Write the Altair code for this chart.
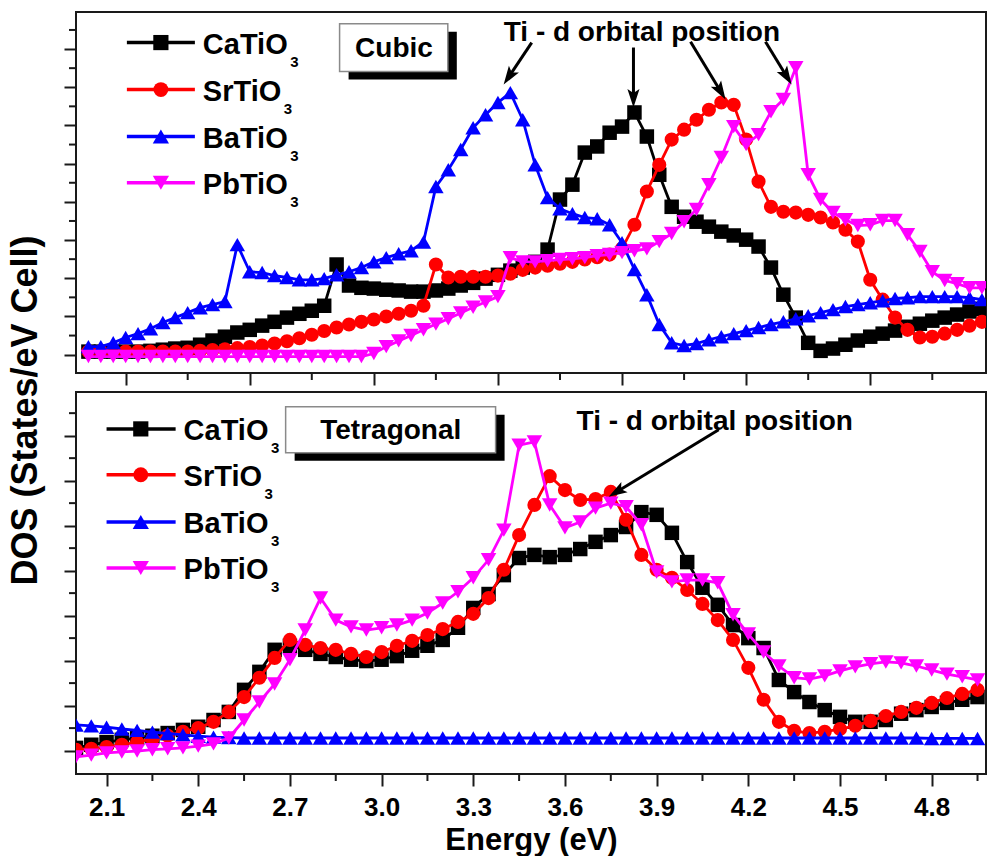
import math
import altair as alt
import pandas as pd

FONT = "Liberation Sans"
INK = "#1a1a1a"

series_names = ["CaTiO3", "SrTiO3", "BaTiO3", "PbTiO3"]
legend_main = ["CaTiO", "SrTiO", "BaTiO", "PbTiO"]
legend_sub = ["3", "3", "3", "3"]
series_colors = ["#000000", "#ff0000", "#0000ff", "#ff00ff"]
series_shapes = ["square", "circle", "triangle-up", "triangle-down"]

# ---------------- Cubic panel (top) ----------------
cubic_energy = [1.85, 1.90, 1.95, 2.00, 2.05, 2.10, 2.15, 2.20, 2.25, 2.30,
                2.35, 2.40, 2.45, 2.50, 2.55, 2.60, 2.65, 2.70, 2.75, 2.80,
                2.85, 2.90, 2.95, 3.00, 3.05, 3.10, 3.15, 3.20, 3.25, 3.30,
                3.35, 3.40, 3.45, 3.50, 3.55, 3.60, 3.65, 3.70, 3.75, 3.80,
                3.85, 3.90, 3.95, 4.00, 4.05, 4.10, 4.15, 4.20, 4.25, 4.30,
                4.35, 4.40, 4.45, 4.50, 4.55, 4.60, 4.65, 4.70, 4.75, 4.80,
                4.85, 4.90, 4.95, 5.00, 5.05, 5.10, 5.15, 5.20, 5.25, 5.30,
                5.35, 5.40, 5.45]
cubic_ca = [0.08, 0.08, 0.08, 0.08, 0.08, 0.10, 0.13, 0.16, 0.18, 0.26,
            0.37, 0.47, 0.58, 0.65, 0.76, 0.86, 0.97, 1.07, 1.15, 1.28,
            2.36, 1.81, 1.75, 1.73, 1.70, 1.68, 1.65, 1.65, 1.68, 1.73,
            1.81, 1.88, 1.99, 2.09, 2.20, 2.28, 2.43, 2.75, 4.06, 4.45,
            5.29, 5.45, 5.81, 5.97, 6.34, 5.71, 4.71, 3.87, 3.61, 3.48,
            3.35, 3.22, 3.12, 3.01, 2.83, 2.28, 1.57, 0.97, 0.31, 0.10,
            0.16, 0.26, 0.37, 0.47, 0.55, 0.63, 0.73, 0.81, 0.89, 0.97,
            1.05, 1.13, 1.20]
cubic_sr = [0.08, 0.08, 0.08, 0.08, 0.08, 0.08, 0.08, 0.08, 0.08, 0.10,
            0.12, 0.14, 0.17, 0.20, 0.24, 0.29, 0.35, 0.43, 0.52, 0.62,
            0.71, 0.79, 0.86, 0.92, 1.00, 1.07, 1.15, 1.28, 2.36, 2.02,
            2.04, 2.04, 2.04, 2.07, 2.12, 2.22, 2.28, 2.33, 2.38, 2.43,
            2.49, 2.55, 2.62, 2.78, 3.40, 4.27, 4.97, 5.63, 5.89, 6.15,
            6.41, 6.60, 6.54, 5.63, 4.53, 3.87, 3.74, 3.72, 3.66, 3.59,
            3.46, 3.27, 2.96, 1.96, 1.44, 0.97, 0.65, 0.45, 0.47, 0.55,
            0.65, 0.76, 0.86]
cubic_ba = [0.21, 0.21, 0.31, 0.45, 0.55, 0.68, 0.84, 0.97, 1.10, 1.23,
            1.31, 1.39, 2.88, 2.17, 2.15, 2.07, 2.02, 1.96, 1.96, 1.99,
            2.09, 2.17, 2.28, 2.43, 2.54, 2.64, 2.72, 2.95, 4.40, 4.84,
            5.37, 5.94, 6.28, 6.60, 6.86, 6.15, 4.97, 4.11, 3.82, 3.69,
            3.59, 3.56, 3.40, 2.93, 2.23, 1.57, 0.79, 0.31, 0.24, 0.29,
            0.39, 0.47, 0.55, 0.63, 0.71, 0.79, 0.86, 0.94, 1.02, 1.10,
            1.18, 1.26, 1.31, 1.36, 1.41, 1.47, 1.49, 1.52, 1.52, 1.52,
            1.52, 1.49, 1.44]
cubic_pb = [-0.05, -0.05, -0.05, -0.05, -0.05, -0.05, -0.05, -0.05, -0.05, -0.05,
            -0.05, -0.05, -0.05, -0.05, -0.05, -0.05, -0.05, -0.05, -0.05, -0.05,
            -0.05, -0.05, -0.05, 0.03, 0.21, 0.36, 0.50, 0.65, 0.80, 0.94,
            1.09, 1.24, 1.38, 1.52, 2.54, 2.43, 2.43, 2.46, 2.49, 2.51,
            2.54, 2.59, 2.62, 2.67, 2.72, 2.77, 2.96, 3.17, 3.48, 3.80,
            4.45, 5.16, 5.97, 5.50, 5.76, 6.36, 6.68, 7.51, 4.71, 4.06,
            3.72, 3.53, 3.38, 3.40, 3.51, 3.51, 3.14, 2.70, 2.17, 1.94,
            1.86, 1.75, 1.75]

# ---------------- Tetragonal panel (bottom) ----------------
tet_energy = [2.00, 2.05, 2.10, 2.15, 2.20, 2.25, 2.30, 2.35, 2.40, 2.45,
              2.50, 2.55, 2.60, 2.65, 2.70, 2.75, 2.80, 2.85, 2.90, 2.95,
              3.00, 3.05, 3.10, 3.15, 3.20, 3.25, 3.30, 3.35, 3.40, 3.45,
              3.50, 3.55, 3.60, 3.65, 3.70, 3.75, 3.80, 3.85, 3.90, 3.95,
              4.00, 4.05, 4.10, 4.15, 4.20, 4.25, 4.30, 4.35, 4.40, 4.45,
              4.50, 4.55, 4.60, 4.65, 4.70, 4.75, 4.80, 4.85, 4.90, 4.95]
tet_ca = [0.06, 0.13, 0.19, 0.24, 0.28, 0.33, 0.39, 0.46, 0.53, 0.68,
          0.86, 1.35, 1.75, 2.24, 2.33, 2.24, 2.15, 2.08, 2.02, 1.99,
          2.02, 2.10, 2.22, 2.33, 2.46, 2.73, 3.17, 3.48, 3.90, 4.28,
          4.35, 4.30, 4.35, 4.48, 4.64, 4.79, 4.97, 5.30, 5.24, 4.84,
          4.19, 3.62, 3.24, 2.79, 2.50, 2.28, 1.57, 1.30, 1.08, 0.90,
          0.75, 0.64, 0.64, 0.68, 0.82, 0.90, 0.97, 1.06, 1.13, 1.19]
tet_sr = [0.02, 0.04, 0.08, 0.13, 0.19, 0.26, 0.33, 0.42, 0.50, 0.64,
          0.86, 1.19, 1.62, 2.06, 2.46, 2.35, 2.28, 2.24, 2.15, 2.08,
          2.19, 2.33, 2.44, 2.57, 2.70, 2.86, 3.04, 3.39, 4.02, 4.79,
          5.46, 6.10, 5.79, 5.57, 5.59, 5.75, 5.13, 4.35, 4.02, 3.84,
          3.57, 3.26, 2.90, 2.46, 1.84, 1.13, 0.64, 0.44, 0.39, 0.42,
          0.48, 0.55, 0.66, 0.77, 0.86, 0.95, 1.06, 1.17, 1.26, 1.35]
tet_ba = [0.57, 0.55, 0.52, 0.48, 0.45, 0.41, 0.38, 0.35, 0.32, 0.30,
          0.29, 0.28, 0.28, 0.28, 0.28, 0.28, 0.28, 0.28, 0.28, 0.28,
          0.28, 0.28, 0.28, 0.28, 0.28, 0.28, 0.28, 0.28, 0.28, 0.28,
          0.28, 0.28, 0.28, 0.28, 0.28, 0.28, 0.28, 0.28, 0.28, 0.28,
          0.28, 0.28, 0.28, 0.28, 0.28, 0.28, 0.28, 0.28, 0.28, 0.28,
          0.28, 0.28, 0.28, 0.28, 0.28, 0.28, 0.27, 0.27, 0.27, 0.27]
tet_pb = [-0.14, -0.10, -0.05, -0.03, -0.01, 0.02, 0.04, 0.06, 0.10, 0.15,
          0.28, 0.68, 1.08, 1.48, 2.02, 2.68, 3.39, 2.90, 2.75, 2.68,
          2.73, 2.79, 2.90, 3.06, 3.28, 3.53, 3.84, 4.24, 4.90, 6.79,
          6.86, 5.46, 4.95, 5.08, 5.39, 5.50, 5.42, 5.02, 3.97, 3.75,
          3.79, 3.79, 3.73, 3.02, 2.59, 2.19, 1.88, 1.62, 1.59, 1.66,
          1.77, 1.86, 1.93, 1.97, 1.95, 1.88, 1.79, 1.70, 1.64, 1.57]

# axis ticks
cubic_major_x = [2.0, 2.5, 3.0, 3.5, 4.0, 4.5, 5.0]
cubic_minor_x = [2.25, 2.75, 3.25, 3.75, 4.25, 4.75, 5.25]
cubic_major_y = [0, 1, 2, 3, 4, 5, 6, 7, 8]
cubic_minor_y = [0.5, 1.5, 2.5, 3.5, 4.5, 5.5, 6.5, 7.5, 8.5]
tet_major_x = [2.1, 2.4, 2.7, 3.0, 3.3, 3.6, 3.9, 4.2, 4.5, 4.8]
tet_minor_x = [2.25, 2.55, 2.85, 3.15, 3.45, 3.75, 4.05, 4.35, 4.65, 4.95]
tet_major_y = [0, 1, 2, 3, 4, 5, 6, 7]
tet_minor_y = [0.5, 1.5, 2.5, 3.5, 4.5, 5.5, 6.5, 7.5]

# ---------------- layout / style ----------------
W = 910
TOP_H = 361
BOT_H = 382
TOP_XDOM = (1.8, 1.8 + W / 248.2)
TOP_YDOM = (-0.48, 8.97)
BOT_XDOM = (2.0, 2.0 + W / 305.6)
BOT_YDOM = (-0.52, 7.97)
LEG_FS = 29
SUB_FS = 15
BOX_FS = 28
ANN_FS = 28
MARK_SIZE = {"square": 210, "circle": 200, "triangle-up": 240, "triangle-down": 240}

# Arial-bold advance widths (per em) for legend subscript placement
ADV = {"C": 0.722, "a": 0.556, "T": 0.611, "i": 0.278, "O": 0.778, "S": 0.667,
       "r": 0.389, "B": 0.722, "P": 0.667, "b": 0.611}


def text_w(s, fs):
    return sum(ADV.get(c, 0.6) for c in s) * fs


ARROW_PATH = "M0,0L0.62,1.9L0,1.5L-0.62,1.9Z"


def make_panel(energy, series_vals, xdom, ydom, h, xmaj, xmin, ymaj, ymin,
               xaxis, yaxis, leg, box, ann, arrows):
    kx = W / (xdom[1] - xdom[0])
    ky = h / (ydom[1] - ydom[0])
    xs = alt.Scale(domain=list(xdom), nice=False, zero=False)
    ys = alt.Scale(domain=list(ydom), nice=False, zero=False)

    def X(f):
        return alt.X(f, type="quantitative", scale=xs, axis=xaxis)

    def Y(f):
        return alt.Y(f, type="quantitative", scale=ys, axis=yaxis)

    layers = []
    # minor ticks
    layers.append(alt.Chart(pd.DataFrame({"v": xmin})).mark_rule(color=INK, strokeWidth=2)
                  .encode(x=X("v"), y=alt.value(h), y2=alt.value(h + 7)))
    layers.append(alt.Chart(pd.DataFrame({"v": ymin})).mark_rule(color=INK, strokeWidth=2)
                  .encode(y=Y("v"), x=alt.value(-7), x2=alt.value(0)))

    # data
    for name, vals, col, shp in zip(series_names, series_vals, series_colors, series_shapes):
        d = pd.DataFrame({"energy": energy, "dos": vals, "series": name})
        layers.append(alt.Chart(d).mark_line(color=col, strokeWidth=2.8, clip=True)
                      .encode(x=X("energy"), y=Y("dos")))
        layers.append(alt.Chart(d).mark_point(shape=shp, filled=True, color=col, opacity=1,
                                              size=MARK_SIZE[shp], clip=True)
                      .encode(x=X("energy"), y=Y("dos")))

    # legend
    lx1, lx2, lxm, lxt, lys = leg
    for name, main, sub, col, shp, ly in zip(series_names, legend_main, legend_sub,
                                             series_colors, series_shapes, lys):
        ld = pd.DataFrame({"x1": [lx1], "x2": [lx2], "xm": [lxm], "xt": [lxt],
                           "xs": [lxt + (text_w(main, LEG_FS) + 2) / kx],
                           "y": [ly], "main": [main], "sub": [sub]})
        base = alt.Chart(ld)
        layers.append(base.mark_rule(color=col, strokeWidth=3.5)
                      .encode(x=X("x1"), x2="x2", y=Y("y")))
        layers.append(base.mark_point(shape=shp, filled=True, color=col, opacity=1,
                                      size=MARK_SIZE[shp] * 1.1)
                      .encode(x=X("xm"), y=Y("y")))
        layers.append(base.mark_text(font=FONT, fontWeight="bold", fontSize=LEG_FS, color="black",
                                     align="left", baseline="middle", dy=2)
                      .encode(x=X("xt"), y=Y("y"), text="main:N"))
        layers.append(base.mark_text(font=FONT, fontWeight="bold", fontSize=SUB_FS, color="black",
                                     align="left", baseline="middle", dy=19)
                      .encode(x=X("xs"), y=Y("y"), text="sub:N"))

    # title box with shadow
    (bx1, bx2, by1, by2), label, (tx, ty) = box
    shadow = pd.DataFrame({"x1": [bx1 + 9 / kx], "x2": [bx2 + 9 / kx],
                           "y1": [by1 - 8 / ky], "y2": [by2 - 8 / ky]})
    white = pd.DataFrame({"x1": [bx1], "x2": [bx2], "y1": [by1], "y2": [by2]})
    layers.append(alt.Chart(shadow).mark_rect(color="black")
                  .encode(x=X("x1"), x2="x2", y=Y("y1"), y2="y2"))
    layers.append(alt.Chart(white).mark_rect(fill="white", stroke="#8a8a8a", strokeWidth=1.5)
                  .encode(x=X("x1"), x2="x2", y=Y("y1"), y2="y2"))
    layers.append(alt.Chart(pd.DataFrame({"x": [tx], "y": [ty], "t": [label]}))
                  .mark_text(font=FONT, fontWeight="bold", fontSize=BOX_FS, color="black",
                             align="center", baseline="middle", dy=1)
                  .encode(x=X("x"), y=Y("y"), text="t:N"))

    # annotation text and arrows
    ann_label, (ax, ay) = ann
    layers.append(alt.Chart(pd.DataFrame({"x": [ax], "y": [ay], "t": [ann_label]}))
                  .mark_text(font=FONT, fontWeight="bold", fontSize=ANN_FS, color="black",
                             align="center", baseline="middle")
                  .encode(x=X("x"), y=Y("y"), text="t:N"))
    rows = []
    for (x0, y0), (x1, y1) in arrows:
        dx = (x1 - x0) * kx
        dy = -(y1 - y0) * ky
        ln = math.hypot(dx, dy)
        ux, uy = dx / ln, dy / ln
        ang = math.degrees(math.atan2(dx, -dy)) % 360
        rows.append({"x0": x0, "y0": y0, "xe": x1 - 12 * ux / kx, "ye": y1 + 12 * uy / ky,
                     "xt": x1, "yt": y1, "ang": ang})
    ad = pd.DataFrame(rows)
    layers.append(alt.Chart(ad).mark_rule(color="black", strokeWidth=3)
                  .encode(x=X("x0"), y=Y("y0"), x2="xe", y2="ye"))
    layers.append(alt.Chart(ad).mark_point(shape=ARROW_PATH, filled=True, color="black",
                                           opacity=1, size=380)
                  .encode(x=X("xt"), y=Y("yt"), angle=alt.Angle("ang:Q", scale=None)))

    return alt.layer(*layers).properties(width=W, height=h)


top_xaxis = alt.Axis(values=cubic_major_x, labels=False, ticks=True, tickSize=12, tickWidth=2,
                     tickColor=INK, domain=False, grid=False, title=None)
top_yaxis = alt.Axis(values=cubic_major_y, labels=False, ticks=True, tickSize=12, tickWidth=2,
                     tickColor=INK, domain=False, grid=False, title=None)
bot_xaxis = alt.Axis(values=tet_major_x, format=".1f", labels=True, labelFont=FONT,
                     labelFontSize=26, labelFontWeight="bold", labelColor="black",
                     labelPadding=8, labelOverlap=False, labelFlush=False,
                     ticks=True, tickSize=12, tickWidth=2, tickColor=INK,
                     domain=False, grid=False, title="Energy (eV)", titleFont=FONT,
                     titleFontSize=31, titleFontWeight="bold", titleColor="black",
                     titlePadding=5)
bot_yaxis = alt.Axis(values=tet_major_y, labels=False, ticks=True, tickSize=12, tickWidth=2,
                     tickColor=INK, domain=False, grid=False, title="DOS (States/eV Cell)",
                     titleFont=FONT, titleFontSize=36, titleFontWeight="bold", titleColor="black",
                     titleAngle=270, titleAlign="center", titleBaseline="middle",
                     titleX=-51, titleY=18)

top = make_panel(
    cubic_energy, [cubic_ca, cubic_sr, cubic_ba, cubic_pb], TOP_XDOM, TOP_YDOM, TOP_H,
    cubic_major_x, cubic_minor_x, cubic_major_y, cubic_minor_y, top_xaxis, top_yaxis,
    (2.005, 2.279, 2.142, 2.311, [8.17, 6.94, 5.71, 4.50]),
    ((2.862, 3.298, 7.41, 8.66), "Cubic", (3.081, 8.04)),
    ("Ti - d orbital position", (4.08, 8.43)),
    [((3.636, 8.17), (3.523, 7.07)),
     ((4.046, 8.04), (4.046, 6.47)),
     ((4.276, 8.19), (4.417, 6.68)),
     ((4.578, 8.19), (4.683, 7.07))],
)

bottom = make_panel(
    tet_energy, [tet_ca, tet_sr, tet_ba, tet_pb], BOT_XDOM, BOT_YDOM, BOT_H,
    tet_major_x, tet_minor_x, tet_major_y, tet_minor_y, bot_xaxis, bot_yaxis,
    (2.100, 2.326, 2.212, 2.352, [7.15, 6.13, 5.08, 4.06]),
    ((2.686, 3.373, 6.62, 7.64), "Tetragonal", (3.030, 7.13)),
    ("Ti - d orbital position", (4.090, 7.30)),
    [((4.103, 7.13), (3.743, 5.64))],
)

chart = (
    alt.vconcat(top, bottom, spacing=19, bounds="flush")
    .properties(padding={"left": 5, "top": 11, "right": 0, "bottom": 0}, background="white")
    .configure_view(stroke=INK, strokeWidth=2)
)

chart.save("out.html", embed_options={"renderer": "svg", "actions": False})
